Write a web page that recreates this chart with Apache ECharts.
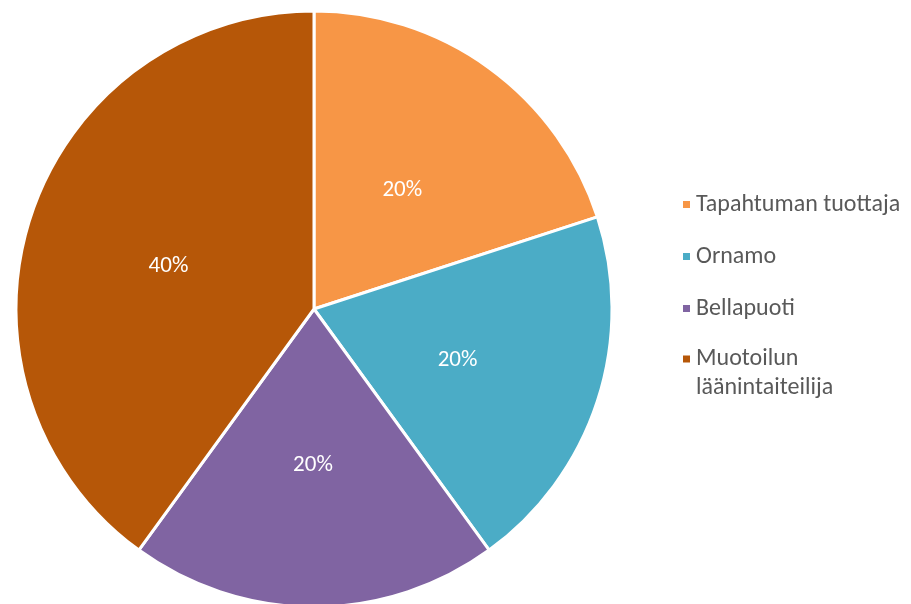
<!DOCTYPE html>
<html>
<head>
<meta charset="utf-8">
<script src="https://cdn.jsdelivr.net/npm/echarts@6/dist/echarts.min.js"></script>
<style>
  html, body { margin: 0; padding: 0; background: #ffffff; }
  #chart { width: 911px; height: 604px; }
</style>
</head>
<body>
<div id="chart"></div>
<script>
// Share of roles (percent)
const categories = ['Tapahtuman tuottaja', 'Ornamo', 'Bellapuoti', 'Muotoilun\nläänintaiteilija'];
const shares = [20, 20, 20, 40];
const colors = ['#F79646', '#4BACC6', '#8064A2', '#B65708'];

const FONT = 'Carlito, Lato, sans-serif';

const pieData = categories.map((name, i) => ({
  name: name,
  value: shares[i],
  itemStyle: { color: colors[i] }
}));

const chart = echarts.init(document.getElementById('chart'), null, { renderer: 'canvas' });

const legendBase = {
  orient: 'vertical',
  left: 681,
  padding: 0,
  icon: 'rect',
  itemWidth: 9,
  itemHeight: 9,
  itemGap: 23,
  selectedMode: false,
  textStyle: { color: '#595959', fontFamily: FONT, fontSize: 24, lineHeight: 29 }
};

chart.setOption({
  animation: false,
  legend: [
    Object.assign({}, legendBase, { top: 190, data: categories.slice(0, 3) }),
    Object.assign({}, legendBase, {
      top: 315.5,
      data: categories.slice(3),
      // an empty leading line keeps the marker level with the first line of the wrapped name
      formatter: name => '\n' + name
    })
  ],
  series: [{
    type: 'pie',
    center: [314, 309],
    radius: [0, 298],
    startAngle: 90,
    clockwise: true,
    data: pieData,
    itemStyle: { borderColor: '#ffffff', borderWidth: 3 },
    label: {
      show: true,
      position: 'inside',
      formatter: '{c}%',
      color: '#ffffff',
      fontFamily: FONT,
      fontSize: 23,
      offset: [-1, 4]
    },
    labelLine: { show: false },
    emphasis: { disabled: true }
  }]
});
</script>
</body>
</html>
